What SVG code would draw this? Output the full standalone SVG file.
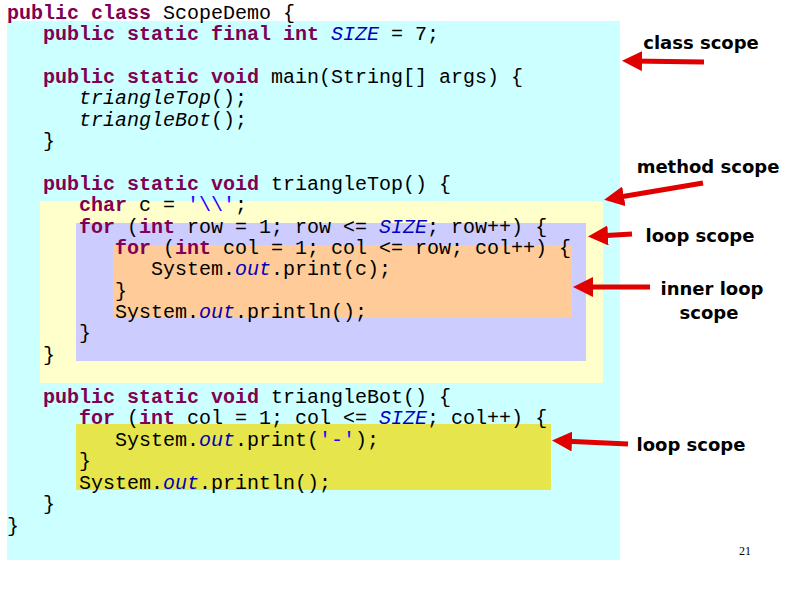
<svg xmlns="http://www.w3.org/2000/svg" width="794" height="595" viewBox="0 0 794 595">
<style>
.c{font-family:"Liberation Mono",monospace;font-size:20px;fill:#000;white-space:pre}
.k{font-weight:bold;fill:#7f0055}
.i{font-style:italic;fill:#0000c0}
.m{font-style:italic}
.s{fill:#2a00ff}
.l{font-family:"DejaVu Sans",Verdana,sans-serif;font-weight:bold;font-size:18px;text-anchor:middle}
.a{stroke:#e00000;stroke-width:5;fill:none;marker-end:url(#ah)}
</style>
<defs><marker id="ah" markerWidth="4" markerHeight="4" refX="2" refY="2" orient="auto" markerUnits="strokeWidth"><path d="M0,0L4,2L0,4z" fill="#e00000"/></marker></defs>
<rect width="794" height="595" fill="#fff"/>
<g id="scopes">
<rect x="7" y="21" width="613" height="539" fill="#ccffff"/>
<rect x="40" y="201" width="563" height="182" fill="#ffffcc"/>
<rect x="76" y="223" width="510" height="138" fill="#ccccff"/>
<rect x="113" y="245" width="459" height="73" fill="#ffcc99"/>
<rect x="76" y="424" width="475" height="66" fill="#e6e64c"/>
</g>
<g id="code" class="c">
<text x="7" y="19"><tspan class="k">public class</tspan> ScopeDemo {</text>
<text x="43" y="40"><tspan class="k">public static final int</tspan> <tspan class="i">SIZE</tspan> = 7;</text>
<text x="43" y="83"><tspan class="k">public static void</tspan> main(String[] args) {</text>
<text x="79" y="104"><tspan class="m">triangleTop</tspan>();</text>
<text x="79" y="126"><tspan class="m">triangleBot</tspan>();</text>
<text x="43" y="147">}</text>
<text x="43" y="190"><tspan class="k">public static void</tspan> triangleTop() {</text>
<text x="79" y="211"><tspan class="k">char</tspan> c = <tspan class="s">'\\'</tspan>;</text>
<text x="79" y="233"><tspan class="k">for</tspan> (<tspan class="k">int</tspan> row = 1; row &lt;= <tspan class="i">SIZE</tspan>; row++) {</text>
<text x="115" y="254"><tspan class="k">for</tspan> (<tspan class="k">int</tspan> col = 1; col &lt;= row; col++) {</text>
<text x="151" y="275">System.<tspan class="i">out</tspan>.print(c);</text>
<text x="115" y="297">}</text>
<text x="115" y="318">System.<tspan class="i">out</tspan>.println();</text>
<text x="79" y="339">}</text>
<text x="43" y="361">}</text>
<text x="43" y="403"><tspan class="k">public static void</tspan> triangleBot() {</text>
<text x="79" y="424"><tspan class="k">for</tspan> (<tspan class="k">int</tspan> col = 1; col &lt;= <tspan class="i">SIZE</tspan>; col++) {</text>
<text x="115" y="446">System.<tspan class="i">out</tspan>.print(<tspan class="s">'-'</tspan>);</text>
<text x="79" y="467">}</text>
<text x="79" y="489">System.<tspan class="i">out</tspan>.println();</text>
<text x="43" y="510">}</text>
<text x="7" y="532">}</text>
</g>
<g id="connectors">
<path class="a" d="M704,62L632,61"/>
<path class="a" d="M703,183L614,198"/>
<path class="a" d="M632,234L598,236"/>
<path class="a" d="M650,287L583,287"/>
<path class="a" d="M628,444L562,441"/>
</g>
<g id="labels">
<text class="l" x="701" y="49">class scope</text>
<text class="l" x="708" y="173">method scope</text>
<text class="l" x="700" y="242">loop scope</text>
<text class="l" x="712" y="295">inner loop</text>
<text class="l" x="709" y="319">scope</text>
<text class="l" x="691" y="451">loop scope</text>
<text x="745" y="555" style="font-family:'Liberation Serif',serif;font-size:12px;text-anchor:middle">21</text>
</g>
</svg>
